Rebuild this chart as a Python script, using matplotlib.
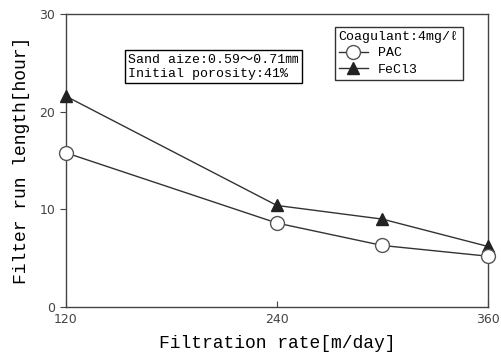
import matplotlib.pyplot as plt

plt.rcParams['font.family'] = ['Liberation Mono', 'Noto Sans CJK JP', 'DejaVu Sans']

rate = [120, 240, 300, 360]
pac = [15.8, 8.6, 6.3, 5.2]
fecl3 = [21.6, 10.4, 9.0, 6.2]
xticks = [120, 240, 360]
yticks = [0, 10, 20, 30]

fig = plt.figure(figsize=(5.02, 3.62), dpi=100)
ax = fig.add_axes([0.131, 0.152, 0.841, 0.809])

ax.plot(rate, fecl3, '-', color='#333333', lw=1.0, marker='^', ms=8,
        mfc='#222222', mec='#222222', label='FeCl3', clip_on=False, zorder=3)
ax.plot(rate, pac, '-', color='#333333', lw=1.0, marker='o', ms=10,
        mfc='white', mec='#555555', label='PAC', clip_on=False, zorder=4)

ax.set_xlim(120, 360)
ax.set_ylim(0, 30)
ax.set_xticks(xticks)
ax.set_yticks(yticks)
ax.tick_params(axis='x', direction='in', length=4, labelsize=9, colors='#444444', pad=4)
ax.tick_params(axis='y', direction='out', length=4, labelsize=9, colors='#444444')
for lab in ax.get_xticklabels() + ax.get_yticklabels():
    lab.set_family('DejaVu Sans')
for s in ax.spines.values():
    s.set_color('#444444')
    s.set_linewidth(1.0)

ax.set_xlabel('Filtration rate[m/day]', fontsize=13, labelpad=7)
ax.set_ylabel('Filter run length[hour]', fontsize=13, labelpad=7)

ax.text(0.148, 0.865, 'Sand aize:0.59～0.71㎜\nInitial porosity:41%', transform=ax.transAxes,
        fontsize=9.5, va='top', ha='left', linespacing=1.25,
        bbox=dict(boxstyle='square,pad=0.25', fc='white', ec='black', lw=1.0))

h, l = ax.get_legend_handles_labels()
leg = ax.legend(h[::-1], l[::-1], title='Coagulant:4mg/ℓ', loc='upper right',
                bbox_to_anchor=(0.94, 0.955), fontsize=9.5, title_fontsize=9.5,
                frameon=True, fancybox=False, edgecolor='black', borderpad=0.3,
                handlelength=2.2, labelspacing=0.3, borderaxespad=0)
leg._legend_box.align = 'left'
leg.get_frame().set_linewidth(1.0)

fig.savefig('out.png', dpi=100)
